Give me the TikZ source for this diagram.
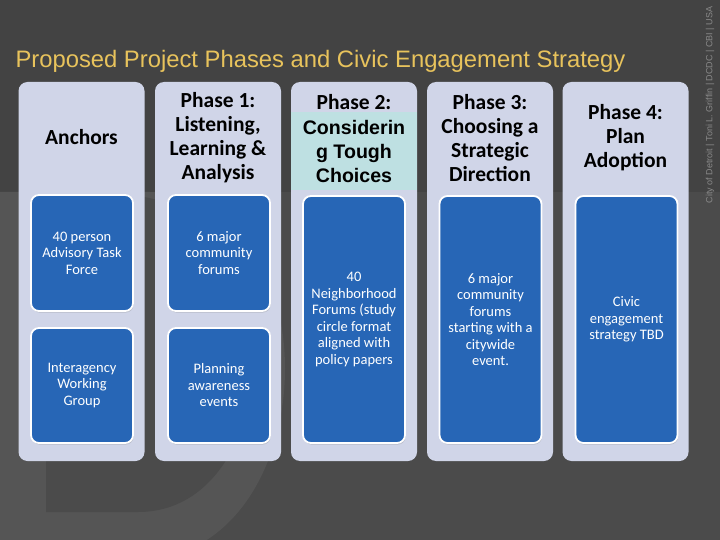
\documentclass[tikz,border=0pt]{standalone}
\usepackage{fontspec}
\usepackage{tikz}
\usetikzlibrary{positioning,shadows}
\newfontfamily\calfont{Carlito}
\newfontfamily\arifont{Liberation Sans}

\definecolor{bgdark}{HTML}{434343}
\definecolor{bgmid}{HTML}{4B4B4B}
\definecolor{bglight}{HTML}{555555}
\definecolor{colfill}{HTML}{D0D5E8}
\definecolor{cardblue}{HTML}{2766B6}
\definecolor{tealband}{HTML}{BEE0E2}
\definecolor{titlegold}{HTML}{E8C35C}
\definecolor{credgray}{HTML}{8A8A8A}

\tikzset{
  col/.style={fill=colfill, rounded corners=9pt, minimum width=126pt, minimum height=379pt, inner sep=0pt},
  card/.style={fill=cardblue, draw=white, line width=1.8pt, rounded corners=8pt, minimum width=102pt, inner sep=0pt,
    drop shadow={opacity=0.3, shadow xshift=0.6pt, shadow yshift=-1.6pt},
    text=white, align=center, font=\calfont\fontsize{14.5}{16.5}\selectfont},
  headtxt/.style={align=center, font=\calfont\bfseries\fontsize{21.5}{24}\selectfont},
}

\begin{document}
\begin{tikzpicture}[x=1pt, y=-1pt]
  \useasboundingbox (0,0) rectangle (720,540);
  % background and watermark
  \fill[bgmid] (0,0) rectangle (720,540);
  \fill[bgdark] (0,0) rectangle (720,192);
  \fill[bglight] (0,192) -- (150,192) .. controls (330,192) and (330,540) .. (150,560) -- (0,560) -- cycle;
  \fill[bgmid] (46,195) -- (120,195) .. controls (300,195) and (290,512) .. (138,512) -- (46,512) -- cycle;

  \node[anchor=west, text=titlegold, font=\arifont\fontsize{23.8}{26}\selectfont] (title) at (12,61)
    {Proposed Project Phases and Civic Engagement Strategy};
  \node[rotate=90, text=credgray, font=\arifont\fontsize{9}{10}\selectfont] (credit) at (710,105)
    {City of Detroit | Toni L. Griffin | DCDC | CBI | USA};

  % columns
  \node[col] (anc) at (81.5,271.5) {};
  \node[col] (ph1) at (218,271.5) {};
  \node[col] (ph2) at (354,271.5) {};
  \node[col] (ph3) at (490,271.5) {};
  \node[col] (ph4) at (625.5,271.5) {};
  \fill[tealband] (291,112) rectangle (417,190);

  % headings
  \node[headtxt] (anchead) at (81.5,137) {Anchors};
  \node[headtxt] (ph1head) at (218,138) {Phase 1:\\Listening,\\Learning \&\\Analysis};
  \node[headtxt] (ph2lbl) at (354,102) {Phase 2:};
  \node[align=center, font=\arifont\bfseries\fontsize{19.6}{24}\selectfont] (ph2head) at (354,151)
    {Considerin\\g Tough\\Choices};
  \node[headtxt] (ph3head) at (490,138) {Phase 3:\\Choosing a\\Strategic\\Direction};
  \node[headtxt] (ph4head) at (625.5,138) {Phase 4:\\Plan\\Adoption};

  % cards
  \node[card, minimum height=116pt] (advisory) at (82,253) {40 person\\Advisory Task\\Force};
  \node[card, minimum height=115pt] (interagency) at (82,385.5) {Interagency\\Working\\Group};
  \node[card, minimum height=116pt] (forums1) at (219,253) {6 major\\community\\forums};
  \node[card, minimum height=115pt] (awareness) at (219,385.5) {Planning\\awareness\\events};
  \node[card, minimum height=247pt] (neighborhood) at (354,319.5)
    {40\\Neighborhood\\Forums (study\\circle format\\aligned with\\policy papers};
  \node[card, minimum height=247pt] (forums3) at (490.5,319.5)
    {6 major\\community\\forums\\starting with a\\citywide\\event.};
  \node[card, minimum height=247pt] (civic) at (626.5,319.5)
    {Civic\\engagement\\strategy TBD};
\end{tikzpicture}
\end{document}
